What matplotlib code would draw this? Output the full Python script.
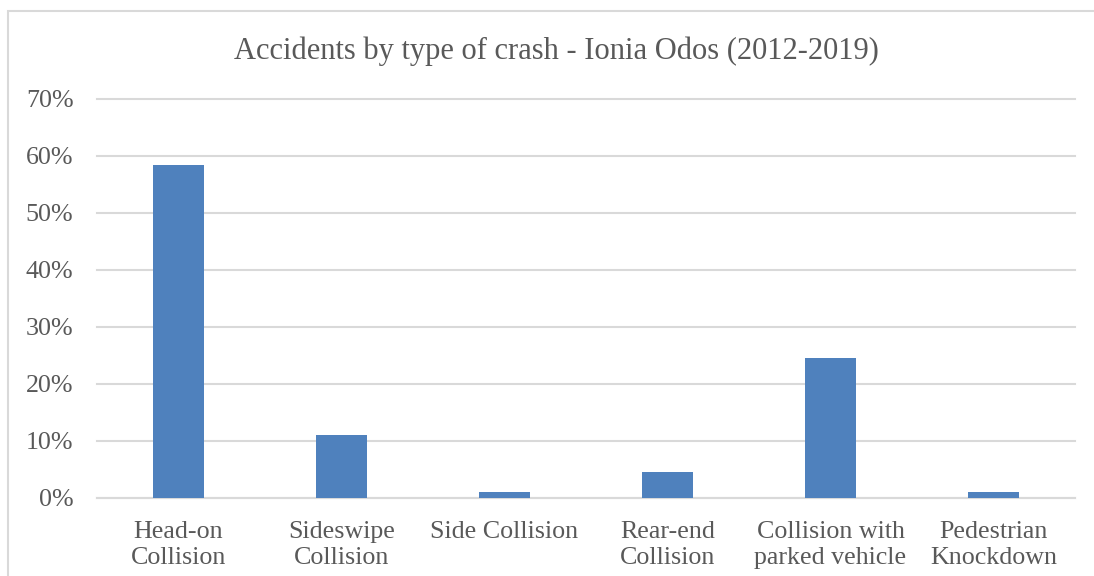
import matplotlib
matplotlib.use("Agg")
import matplotlib.pyplot as plt
from matplotlib.patches import Rectangle
from matplotlib.ticker import FuncFormatter

categories = ["Head-on\nCollision", "Sideswipe\nCollision", "Side Collision",
              "Rear-end\nCollision", "Collision with\nparked vehicle", "Pedestrian\nKnockdown"]
values = [58.4, 11.0, 1.0, 4.5, 24.5, 0.95]
yticks = [0, 10, 20, 30, 40, 50, 60, 70]

FONT = ["Liberation Serif"]
TXT = "#595959"

fig = plt.figure(figsize=(10.94, 5.76), dpi=100)
W, H = 1094, 576
ax = fig.add_axes([97 / W, 1 - 497.7 / H, (1075 - 97) / W, (497.7 - 98.7) / H])

x = list(range(len(categories)))
ax.bar(x, values, width=0.31, color="#4f81bd", zorder=3)
ax.set_xlim(-0.5, len(categories) - 0.5)
ax.set_ylim(0, 70)
ax.set_yticks(yticks)
ax.yaxis.set_major_formatter(FuncFormatter(lambda v, p: f"{int(v)}%"))
ax.set_xticks(x)
ax.set_xticklabels(categories, fontsize=18.7, color=TXT, family=FONT, linespacing=1.27)
for lab in ax.get_yticklabels():
    lab.set_fontsize(18.7)
    lab.set_color(TXT)
    lab.set_family(FONT)
ax.tick_params(axis="both", length=0)
ax.tick_params(axis="y", pad=17)
ax.tick_params(axis="x", pad=16.5)
ax.grid(axis="y", color="#d9d9d9", linewidth=1.5, zorder=0)
for gl in ax.get_ygridlines():
    gl.set_clip_on(False)
for s in ["top", "right", "left"]:
    ax.spines[s].set_visible(False)
ax.spines["bottom"].set_color("#d9d9d9")
ax.spines["bottom"].set_linewidth(1.5)

fig.text(556 / W, 1 - 59 / H, "Accidents by type of crash - Ionia Odos (2012-2019)",
         ha="center", va="baseline", fontsize=22, color=TXT, family=FONT)

fig.patches.append(Rectangle((7.5 / W, -0.1), (W + 20 - 7.5) / W, (1 - 10.5 / H) + 0.1,
                             transform=fig.transFigure, fill=False,
                             edgecolor="#d9d9d9", linewidth=1.5))

fig.savefig("out.png", dpi=100)
